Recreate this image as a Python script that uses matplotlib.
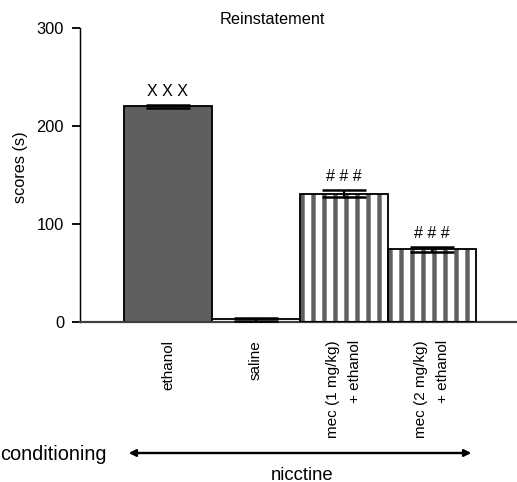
import matplotlib
matplotlib.use("Agg")
import matplotlib.pyplot as plt

categories = ["ethanol", "saline", "mec (1 mg/kg)\n+ ethanol", "mec (2 mg/kg)\n+ ethanol"]
means = [220, 3, 131, 74]
errors = [1.5, 1.5, 3.4, 3.0]
marks = ["X X X", "", "# # #", "# # #"]
yticks = [0, 100, 200, 300]

DPI = 132
W, H = 517, 482
plt.rcParams['font.family'] = ['Liberation Sans', 'DejaVu Sans']
plt.rcParams['hatch.linewidth'] = 2.4

def px(p):
    return p * 72.0 / DPI

fig = plt.figure(figsize=(W / DPI, H / DPI), dpi=DPI)
ax = fig.add_axes([80 / W, 160 / H, (W - 80) / W, 294 / H])

x = list(range(len(categories)))
ax.bar(x[0], means[0], width=1.0, color='#5f5f5f', edgecolor='black', linewidth=1.0, zorder=2)
ax.bar(x[1], means[1], width=1.0, color='white', edgecolor='black', linewidth=1.0, zorder=2)
ax.bar(x[2:], means[2:], width=1.0, color='white', edgecolor='#606060', hatch='||', linewidth=0, zorder=2)
ax.bar(x[2:], means[2:], width=1.0, fill=False, edgecolor='black', linewidth=1.0, zorder=3)

ax.errorbar(x, means, yerr=errors, fmt='none', ecolor='black', elinewidth=1.2,
            capsize=px(22), capthick=px(2.5), zorder=4)

for xi, m, e, t in zip(x, means, errors, marks):
    if t:
        ax.annotate(t, (xi, m + e), xytext=(0, px(6)), textcoords='offset points',
                    ha='center', va='bottom', fontsize=px(16))

ax.set_xlim(-1, 3.97)
ax.set_ylim(0, 300)
ax.set_yticks(yticks)
ax.set_yticklabels([str(v) for v in yticks], fontsize=px(16.4))
ax.set_xticks(x)
ax.set_xticklabels(categories, rotation=90, fontsize=px(15.3), va='top', ha='center',
                   multialignment='right', linespacing=1.75)
ax.tick_params(axis='x', length=0, pad=px(18))
ax.tick_params(axis='y', length=px(8), width=1.0, pad=px(8))
for s in ['top', 'right']:
    ax.spines[s].set_visible(False)
ax.spines['left'].set_color('black')
ax.spines['bottom'].set_color('#404040')
ax.spines['bottom'].set_linewidth(1.2)
ax.set_facecolor('none')

fig.text(20 / W, 1 - 167 / H, "scores (s)", rotation=90, ha='center', va='center', fontsize=px(16.3))
fig.text(272 / W, 1 - 20 / H, "Reinstatement", ha='center', va='center', fontsize=px(16.3))
fig.text(0 / W, 1 - 455 / H, "conditioning", ha='left', va='center', fontsize=px(20))
fig.text(302 / W, 1 - 475 / H, "nicctine", ha='center', va='center', fontsize=px(18.5))
fig.add_artist(matplotlib.patches.FancyArrowPatch(
    (125 / W, 1 - 453 / H), (475 / W, 1 - 453 / H), transform=fig.transFigure,
    arrowstyle='<|-|>', mutation_scale=px(14), color='black', linewidth=1.3))

fig.savefig("out.png", dpi=DPI)
